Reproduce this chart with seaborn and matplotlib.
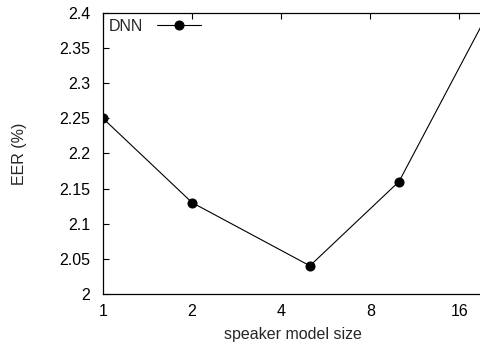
import matplotlib
matplotlib.use("Agg")
import matplotlib.pyplot as plt
import seaborn as sns
import pandas as pd
from matplotlib.ticker import FixedLocator, FixedFormatter, NullLocator

# values
model_size = [1, 2, 5, 10, 20]
eer = [2.25, 2.13, 2.04, 2.16, 2.40]
xticks = [1, 2, 4, 8, 16]
yticks = [2, 2.05, 2.1, 2.15, 2.2, 2.25, 2.3, 2.35, 2.4]
ytick_labels = ["2", "2.05", "2.1", "2.15", "2.2", "2.25", "2.3", "2.35", "2.4"]

df = pd.DataFrame({"size": model_size, "eer": eer, "model": "DNN"})

sns.set_style("white")
plt.rcParams["font.family"] = ["Liberation Sans", "DejaVu Sans"]
fs = 11.5

fig = plt.figure(figsize=(4.81, 3.47), dpi=100)
ax = fig.add_axes([0.214, 0.153, 0.79, 0.8097])

sns.lineplot(data=df, x="size", y="eer", hue="model", palette=["black"],
             marker="o", markersize=6.5, markeredgecolor="black",
             linewidth=0.8, ax=ax)

ax.set_xscale("log", base=2)
ax.set_xlim(1, 19.2)
ax.set_ylim(2, 2.4)
ax.xaxis.set_major_locator(FixedLocator(xticks))
ax.xaxis.set_major_formatter(FixedFormatter([str(t) for t in xticks]))
ax.xaxis.set_minor_locator(NullLocator())
ax.yaxis.set_major_locator(FixedLocator(yticks))
ax.yaxis.set_major_formatter(FixedFormatter(ytick_labels))

ax.tick_params(axis="both", direction="in", length=4, width=0.8,
               labelsize=fs, colors="black", pad=9)
ax.tick_params(axis="x", top=True, pad=7)
ax.tick_params(axis="y", left=True, right=False)
for s in ["left", "bottom", "top"]:
    ax.spines[s].set_color("black")
    ax.spines[s].set_linewidth(0.9)
ax.spines["right"].set_visible(False)

ax.set_xlabel("speaker model size", fontsize=fs, labelpad=6)
ax.set_ylabel("EER (%)", fontsize=fs, labelpad=23)

leg = ax.legend(loc="upper left", frameon=False, fontsize=fs,
                markerfirst=False, handlelength=2.75, borderaxespad=0.15,
                handletextpad=0.9, borderpad=0.2)

fig.savefig("out.png", dpi=100)
